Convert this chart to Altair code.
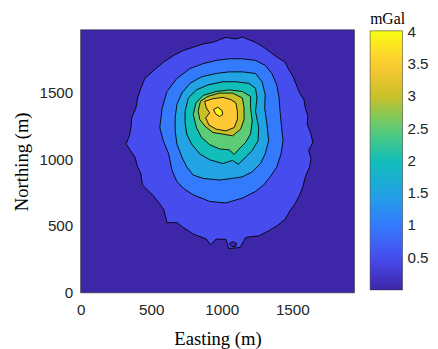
import altair as alt
import pandas as pd

# ---------------- data ----------------
X_EXTENT = [0, 1940]          # Easting extent (m)
Y_EXTENT = [0, 1970]          # Northing extent (m)
X_TICKS = [0, 500, 1000, 1500]
Y_TICKS = [0, 500, 1000, 1500]
CBAR_TICKS = [0.5, 1, 1.5, 2, 2.5, 3, 3.5, 4]
LEVEL_STOPS = [0, 0.5, 1.0, 1.5, 2.0, 2.5, 3.0, 3.5, 4.0, 4.02]
PARULA = ["#3e26a8", "#474cef", "#347afd", "#21a3e4", "#12beb9",
          "#5ccc76", "#c8c129", "#fec934", "#f9fb15", "#f9fb15"]

# contour level 0.5 mGal
C05_X = [455, 520, 589, 659, 728, 798, 868, 937, 984, 1030, 1100, 1146, 1192, 1239, 1297, 1343,
         1390, 1448, 1471, 1506, 1529, 1552, 1582, 1592, 1610, 1605, 1629, 1645, 1615, 1633, 1622,
         1592, 1575, 1552, 1522, 1482, 1448, 1390, 1332, 1262, 1169, 1130, 1050, 1030, 960, 920,
         891, 798, 728, 682, 612, 589, 520, 438, 427, 404, 385, 353, 322, 346, 357, 362, 392, 404, 427]
C05_Y = [1606, 1668, 1729, 1778, 1815, 1840, 1864, 1876, 1896, 1913, 1901, 1916, 1896, 1876, 1839, 1803,
         1766, 1729, 1680, 1618, 1557, 1496, 1447, 1385, 1324, 1262, 1201, 1127, 1066, 1004, 943,
         869, 796, 734, 673, 612, 550, 501, 464, 427, 415, 340, 332, 400, 403, 359,
         403, 440, 489, 526, 526, 624, 722, 808, 894, 943, 1017, 1066, 1115, 1176, 1238, 1311, 1385, 1459, 1533]
# small closed low near the southern edge
ISL_X = [1053, 1076, 1104, 1100, 1072]
ISL_Y = [366, 383, 371, 349, 346]
# contour level 1.0
C10_X = [578, 612, 682, 775, 868, 960, 1053, 1146, 1239, 1308, 1355, 1390, 1406, 1413, 1424, 1434,
         1420, 1390, 1343, 1297, 1239, 1146, 1030, 914, 798, 728, 682, 647, 624, 585, 561]
C10_Y = [1385, 1508, 1606, 1680, 1717, 1741, 1753, 1753, 1741, 1704, 1643, 1557, 1459, 1360, 1238, 1140,
         1041, 943, 869, 808, 759, 710, 673, 685, 734, 783, 833, 919, 1041, 1140, 1238]
# contour level 1.5
C15_X = [670, 682, 717, 775, 856, 960, 1053, 1146, 1239, 1285, 1308, 1304, 1320, 1332, 1308, 1274,
         1216, 1146, 1076, 984, 868, 798, 752, 717, 682, 670]
C15_Y = [1311, 1410, 1496, 1569, 1618, 1643, 1655, 1655, 1643, 1581, 1483, 1385, 1262, 1140, 1041, 968,
         906, 869, 857, 845, 857, 882, 943, 1017, 1115, 1213]
# contour level 2.0
C20_X = [740, 763, 821, 902, 1007, 1100, 1192, 1239, 1250, 1239, 1262, 1257, 1216, 1169, 1118, 1076,
         1007, 914, 844, 786, 752, 740]
C20_Y = [1360, 1459, 1520, 1557, 1581, 1581, 1569, 1533, 1459, 1360, 1238, 1140, 1066, 1017, 963, 992,
         968, 997, 1041, 1115, 1189, 1275]
# contour level 2.5
C25_X = [798, 817, 868, 960, 1053, 1146, 1204, 1204, 1216, 1204, 1169, 1123, 1088, 1053, 984, 914, 856, 821]
C25_Y = [1336, 1422, 1479, 1508, 1520, 1508, 1471, 1385, 1287, 1189, 1127, 1078, 1036, 1071, 1078, 1110, 1164, 1238]
# contour level 3.0
C30_X = [833, 849, 902, 984, 1076, 1146, 1158, 1158, 1134, 1076, 1007, 937, 879, 844]
C30_Y = [1360, 1434, 1471, 1496, 1496, 1459, 1385, 1299, 1226, 1176, 1189, 1201, 1250, 1299]
# contour level 3.5
C35_X = [879, 937, 1007, 1065, 1100, 1111, 1111, 1088, 1030, 960, 909, 886, 914, 891]
C35_Y = [1434, 1454, 1464, 1447, 1422, 1360, 1299, 1238, 1213, 1226, 1257, 1311, 1348, 1385]
# contour level 4.0
C40_X = [942, 972, 1002, 1007, 984, 956]
C40_Y = [1373, 1390, 1366, 1336, 1321, 1341]

# ---------------- table built from the arrays ----------------
polys = [
    ("bg", 0.0, [X_EXTENT[0], X_EXTENT[1], X_EXTENT[1], X_EXTENT[0]],
                [Y_EXTENT[0], Y_EXTENT[0], Y_EXTENT[1], Y_EXTENT[1]]),
    ("c05", 0.5, C05_X, C05_Y),
    ("isl", 0.0, ISL_X, ISL_Y),
    ("c10", 1.0, C10_X, C10_Y),
    ("c15", 1.5, C15_X, C15_Y),
    ("c20", 2.0, C20_X, C20_Y),
    ("c25", 2.5, C25_X, C25_Y),
    ("c30", 3.0, C30_X, C30_Y),
    ("c35", 3.5, C35_X, C35_Y),
    ("c40", 4.0, C40_X, C40_Y),
]
rows = []
for name, lev, xs, ys in polys:
    for i, (xv, yv) in enumerate(zip(xs, ys)):
        rows.append({"poly": name, "level": lev, "i": i, "x": xv, "y": yv})
df = pd.DataFrame(rows)

LABEL_FONT = "Liberation Sans"
TITLE_FONT = "Liberation Serif"

xscale = alt.Scale(domain=X_EXTENT, nice=False, zero=False)
yscale = alt.Scale(domain=Y_EXTENT, nice=False, zero=False)
fscale = alt.Scale(domain=LEVEL_STOPS, range=PARULA, interpolate="rgb")

xenc = alt.X("x:Q", scale=xscale, axis=alt.Axis(values=X_TICKS, format="d", title="Easting (m)",
             labelPadding=10, titlePadding=12))
yenc = alt.Y("y:Q", scale=yscale, axis=alt.Axis(values=Y_TICKS, format="d", title="Northing (m)",
             labelPadding=8, titlePadding=8))
fenc = alt.Fill("level:Q", scale=fscale, legend=alt.Legend(
    title="mGal", orient="none", legendX=295, legendY=-19, direction="vertical",
    gradientLength=264, gradientThickness=33, values=CBAR_TICKS, format=".2~g",
    labelFont=LABEL_FONT, labelFontSize=15.5, labelColor="#262626", labelOffset=5,
    labelOverlap=False,
    titleFont=TITLE_FONT, titleFontSize=16, titleFontWeight="normal", titleColor="black",
    titlePadding=4, titleAnchor="start",
    gradientStrokeColor="#262626", gradientStrokeWidth=0.5))

base = alt.Chart(df)
layers = []
for name, lev, xs, ys in polys:
    is_bg = name == "bg"
    layers.append(
        base.transform_filter(alt.datum.poly == name)
        .mark_line(interpolate="linear-closed",
                   stroke="#262626" if is_bg else "black",
                   strokeWidth=0.6 if is_bg else 0.9)
        .encode(x=xenc, y=yenc, fill=fenc, order="i:Q")
    )

chart = (
    alt.layer(*layers)
    .properties(width=279, height=268,
                autosize=alt.AutoSizeParams(type="none"),
                padding={"left": 74, "top": 19, "right": 77, "bottom": 54})
    .configure_view(stroke=None)
    .configure_axis(labelFont=LABEL_FONT, labelFontSize=15.5, labelColor="#262626",
                    titleFont=TITLE_FONT, titleFontSize=19, titleFontWeight="normal",
                    titleColor="black", grid=False, ticks=False, tickSize=0,
                    domain=False, labelFlush=False)
)

chart.save("out.html", embed_options={"renderer": "svg", "actions": False})
